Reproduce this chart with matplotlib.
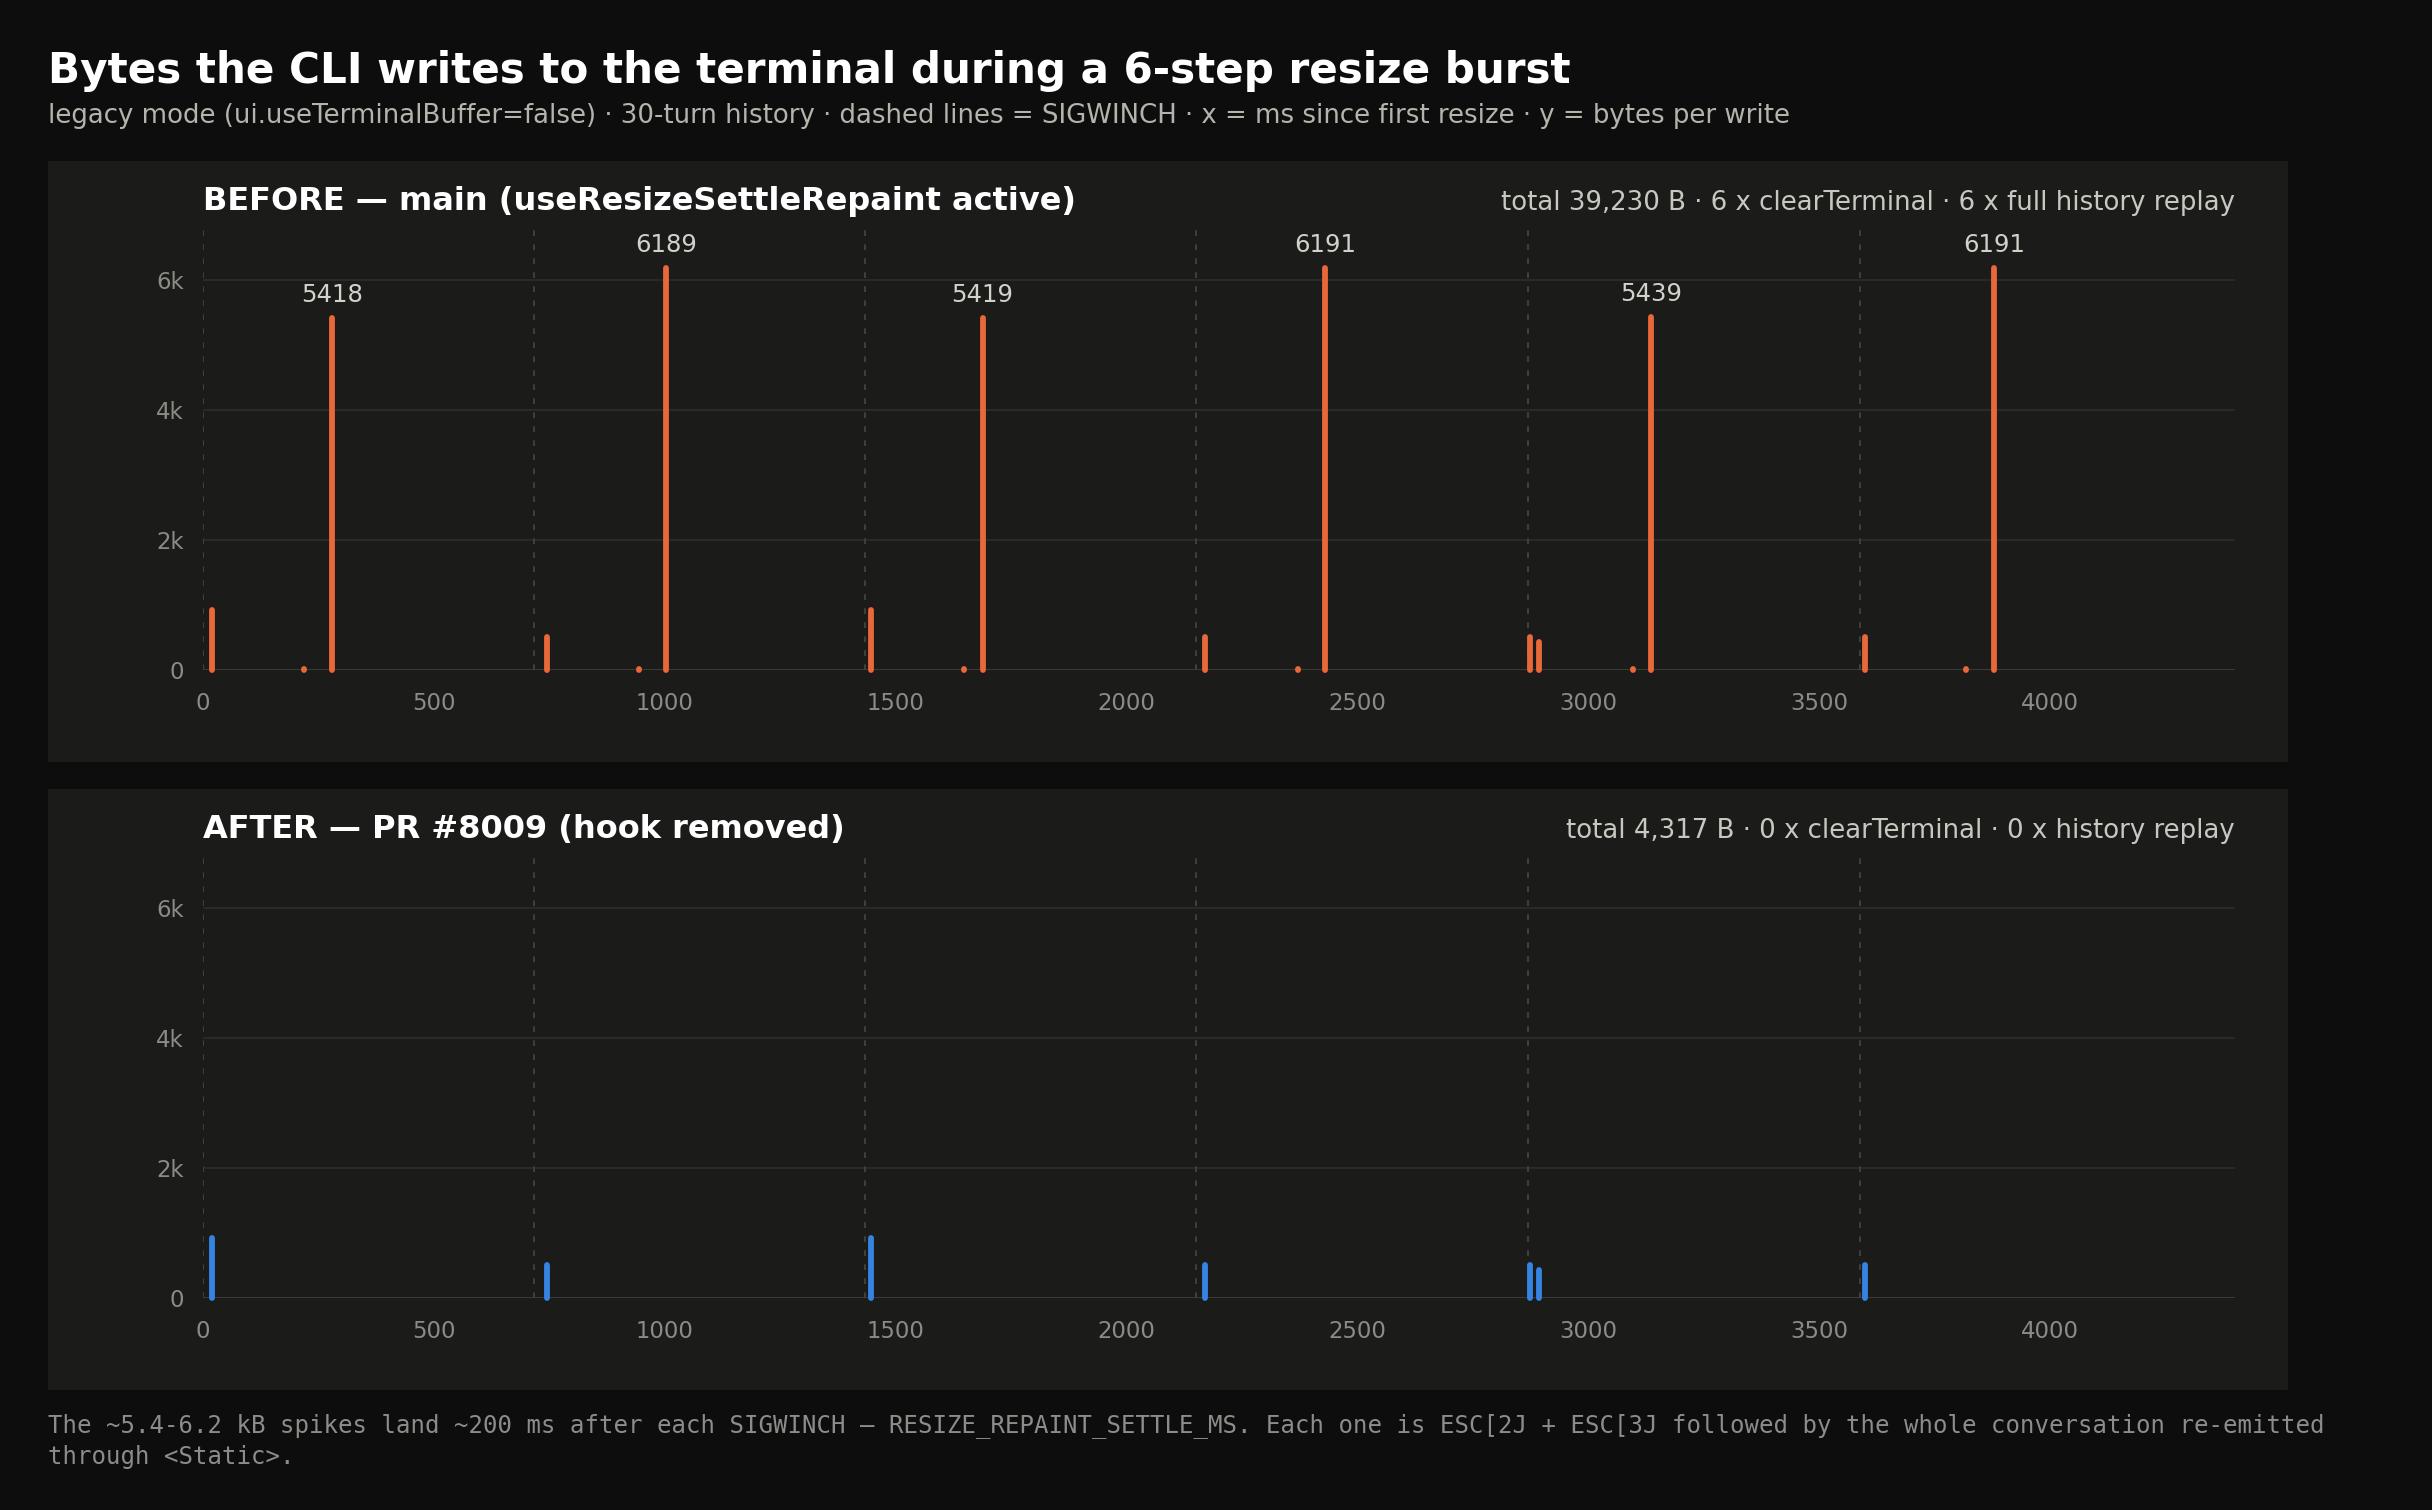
import matplotlib
matplotlib.use("Agg")
import matplotlib.pyplot as plt
from matplotlib.patches import Rectangle
import numpy as np

# SIGWINCH timestamps (ms since first resize)
sigwinch_ms = [0, 717, 1434, 2150, 2868, 3587]

# small writes right after each resize (same in both runs)
small_ms = [20, 744, 1446, 2170, 2873, 2893, 3598]
small_bytes = [921, 512, 921, 512, 512, 427, 512]

# before only: tiny write + full clear/replay ~200 ms later
dot_ms = [219, 944, 1647, 2370, 3096, 3818]
dot_bytes = [11, 11, 11, 11, 11, 11]
big_ms = [280, 1003, 1688, 2430, 3135, 3879]
big_bytes = [5418, 6189, 5419, 6191, 5439, 6191]

yticks = [0, 2000, 4000, 6000]
ytick_labels = ["0", "2k", "4k", "6k"]
xticks = [0, 500, 1000, 1500, 2000, 2500, 3000, 3500, 4000]

BG = "#0d0d0d"
PANEL = "#1b1b1a"
ORANGE = "#e8683a"
BLUE = "#3584e4"
TICK = "#8c8c86"

before_x = small_ms + dot_ms + big_ms
before_y = small_bytes + dot_bytes + big_bytes
after_x = small_ms
after_y = small_bytes

ymax = max(before_y) * 1.1

fig = plt.figure(figsize=(12.16, 7.55), dpi=200, facecolor=BG)

fig.text(0.0197, 0.953, "Bytes the CLI writes to the terminal during a 6-step resize burst",
         color="white", fontsize=15.16, fontweight="bold", va="center", ha="left")
fig.text(0.0197, 0.923, "legacy mode (ui.useTerminalBuffer=false) · 30-turn history · dashed lines = SIGWINCH"
         " · x = ms since first resize · y = bytes per write",
         color="#b4b4ac", fontsize=9.35, va="center", ha="left")


def panel(rect_y0, rect_y1, ax_bottom, xs, ys, color, title, stats, label_big):
    fig.patches.append(Rectangle((0.0197, rect_y0), 0.9211, rect_y1 - rect_y0,
                                 transform=fig.transFigure, facecolor=PANEL,
                                 edgecolor="none", zorder=-5))
    ax = fig.add_axes([0.0835, ax_bottom, 0.8355, 0.293])
    ax.set_facecolor("none")
    ax.set_xlim(0, 4400)
    ax.set_ylim(0, ymax)
    for s in ax.spines.values():
        s.set_visible(False)
    for y in yticks[1:]:
        ax.axhline(y, color="#2f2f2d", lw=0.55, zorder=1)
    ax.axhline(0, color="#3e3e3c", lw=0.65, zorder=1)
    for t in sigwinch_ms:
        ax.axvline(t, color="#3f3f3d", lw=0.72, ls=(0, (2.85, 4.15)), zorder=1)
    lc = ax.vlines(xs, 0, ys, color=color, lw=2.1, zorder=3, clip_on=False)
    lc.set_capstyle("round")
    if label_big:
        for x, y in zip(xs, ys):
            if y > 5000:
                ax.annotate(str(y), (x, y), xytext=(0, 4), textcoords="offset points",
                            ha="center", va="bottom", color="#d2d2ca", fontsize=8.8)
    ax.set_xticks(xticks)
    ax.set_yticks(yticks)
    ax.set_yticklabels(ytick_labels)
    ax.tick_params(length=0, colors=TICK, labelsize=8.2)
    ax.tick_params(axis="x", pad=8)
    ax.tick_params(axis="y", pad=7)
    ax.text(0, 1.06, title, transform=ax.transAxes, ha="left", va="center",
            color="white", fontsize=11.53, fontweight="bold")
    ax.text(1, 1.055, stats, transform=ax.transAxes, ha="right", va="center",
            color="#c8c8c0", fontsize=9.36)
    return ax


panel(0.4954, 0.8934, 0.5563, before_x, before_y, ORANGE,
      "BEFORE — main (useResizeSettleRepaint active)",
      "total 39,230 B · 6 x clearTerminal · 6 x full history replay", True)
panel(0.0795, 0.4775, 0.1404, after_x, after_y, BLUE,
      "AFTER — PR #8009 (hook removed)",
      "total 4,317 B · 0 x clearTerminal · 0 x history replay", False)

fig.text(0.0197, 0.0455,
         "The ~5.4-6.2 kB spikes land ~200 ms after each SIGWINCH — RESIZE_REPAINT_SETTLE_MS. Each one is "
         "ESC[2J + ESC[3J followed by the whole conversation re-emitted\nthrough <Static>.",
         family="DejaVu Sans Mono", color="#8c8c88", fontsize=8.63, va="center", ha="left",
         linespacing=1.35)

fig.savefig("out.png", dpi=200, facecolor=BG)
